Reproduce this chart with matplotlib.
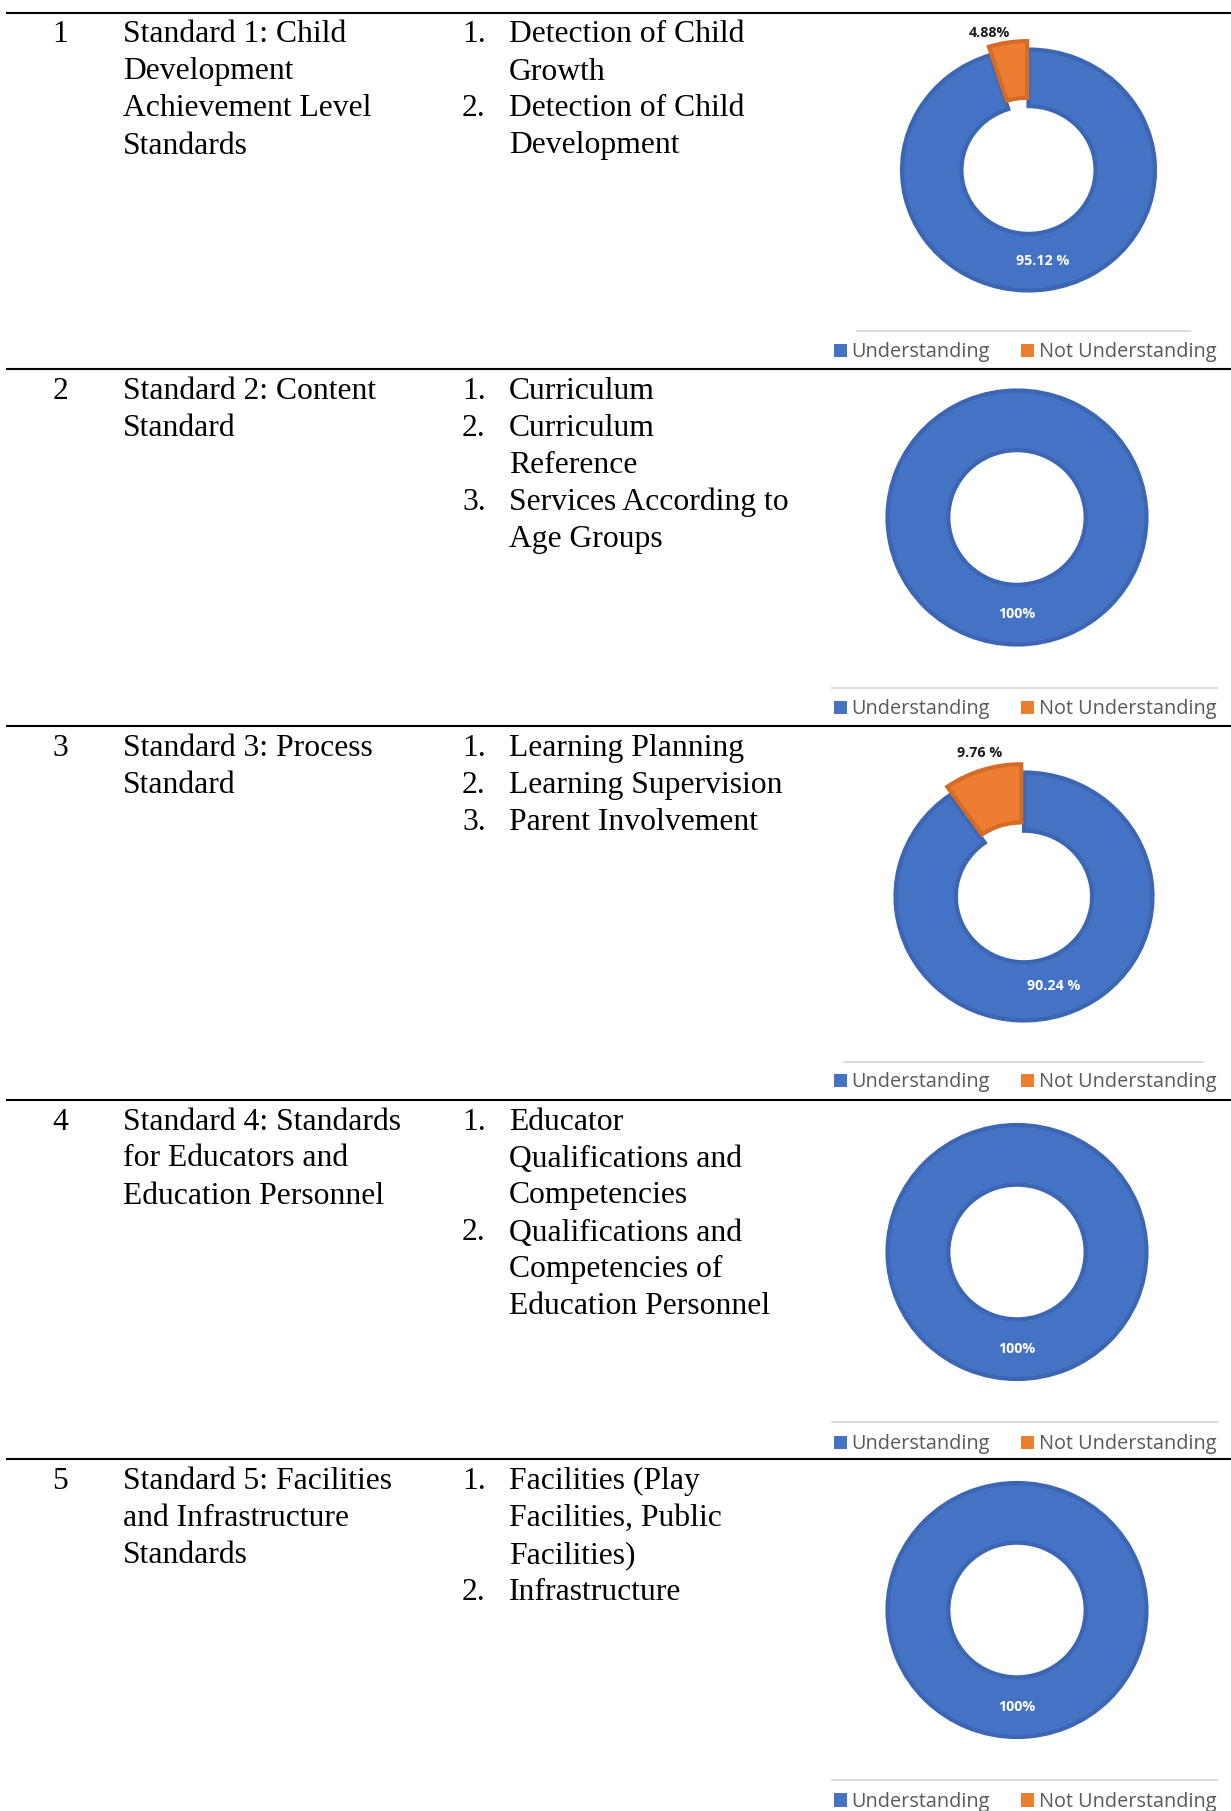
import matplotlib
matplotlib.use("Agg")
import matplotlib.pyplot as plt
import matplotlib.patches as mpatches
import numpy as np

# ---------------- data ----------------
row_numbers = ["1", "2", "3", "4", "5"]
standard_lines = [
    ["Standard 1: Child", "Development", "Achievement Level", "Standards"],
    ["Standard 2: Content", "Standard"],
    ["Standard 3: Process", "Standard"],
    ["Standard 4: Standards", "for Educators and", "Education Personnel"],
    ["Standard 5: Facilities", "and Infrastructure", "Standards"],
]
component_items = [
    [["Detection of Child", "Growth"], ["Detection of Child", "Development"]],
    [["Curriculum"], ["Curriculum", "Reference"], ["Services According to", "Age Groups"]],
    [["Learning Planning"], ["Learning Supervision"], ["Parent Involvement"]],
    [["Educator", "Qualifications and", "Competencies"],
     ["Qualifications and", "Competencies of", "Education Personnel"]],
    [["Facilities (Play", "Facilities, Public", "Facilities)"], ["Infrastructure"]],
]
categories = ["Understanding", "Not Understanding"]
understanding = [95.12, 100, 90.24, 100, 100]
not_understanding = [4.88, 0, 9.76, 0, 0]
understanding_labels = ["95.12 %", "100%", "90.24 %", "100%", "100%"]
not_understanding_labels = ["4.88%", "", "9.76 %", "", ""]

# ---------------- layout / style ----------------
W, H = 1231, 1811
BLUE, ORANGE = "#4472C4", "#ED7D31"
BLUE_EDGE, ORANGE_EDGE = "#3C66B3", "#D56C26"
SERIF = "Liberation Serif"
SANS = "Open Sans"
TFS = 22.8
LINE = 37.0

fig = plt.figure(figsize=(W / 100, H / 100), dpi=100)
fig.patch.set_facecolor("white")
bg = fig.add_axes([0, 0, 1, 1])
bg.set_xlim(0, W)
bg.set_ylim(H, 0)
bg.axis("off")

rule_y = [12.5, 369, 726, 1099.5, 1459]
for y in rule_y:
    bg.plot([6, W], [y, y], color="black", lw=1.5, solid_capstyle="butt")

for i in range(5):
    base = rule_y[i] + 30
    bg.text(60, base, row_numbers[i], ha="center", va="baseline",
            fontfamily=SERIF, fontsize=TFS, color="black")
    for k, s in enumerate(standard_lines[i]):
        bg.text(123, base + k * LINE, s, ha="left", va="baseline",
                fontfamily=SERIF, fontsize=TFS, color="black")
    line = 0
    for n, item in enumerate(component_items[i]):
        bg.text(462, base + line * LINE, f"{n + 1}.", ha="left", va="baseline",
                fontfamily=SERIF, fontsize=TFS, color="black")
        for s in item:
            bg.text(509, base + line * LINE, s, ha="left", va="baseline",
                    fontfamily=SERIF, fontsize=TFS, color="black")
            line += 1

# donut geometry (center x, center y, radius x, radius y) in pixels
geo = [(1028.5, 170, 126.5, 120.5),
       (1017, 517.5, 129.5, 127),
       (1024, 896.5, 128.5, 124),
       (1017, 1252, 129.5, 127),
       (1017, 1610, 129.5, 127)]
outer_nudge_px = [(-16, 4.5), (0, 0), (2, -3), (0, 0), (0, 0)]
legend_y = [352.5, 709.5, 1082.5, 1444.5, 1802]
separators = [(331, 857, 1190), (688, 832, 1217), (1062, 844, 1203),
              (1422, 832, 1217), (1780, 832, 1217)]

L = 1.4
for i in range(5):
    cx, cy, rx, ry = geo[i]
    ax = fig.add_axes([(cx - L * rx) / W, 1 - (cy + L * ry) / H,
                       2 * L * rx / W, 2 * L * ry / H])
    vals = [understanding[i], not_understanding[i]]
    wedges, _ = ax.pie(vals, colors=[BLUE, ORANGE], startangle=90,
                       counterclock=False, explode=[0, 0.07],
                       wedgeprops=dict(width=0.47, linewidth=3.0))
    wedges[0].set_edgecolor(BLUE_EDGE)
    wedges[1].set_edgecolor(ORANGE_EDGE)
    ax.set_aspect("auto")
    ax.set_xlim(-L, L)
    ax.set_ylim(-L, L)
    for w, v, lab, kind in zip(wedges, vals,
                               [understanding_labels[i], not_understanding_labels[i]],
                               ["in", "out"]):
        if v == 0:
            w.set_visible(False)
            continue
        mid = np.deg2rad((w.theta1 + w.theta2) / 2)
        if kind == "in":
            r = 0.76
            ax.text(r * np.cos(mid), r * np.sin(mid), lab, ha="center", va="center",
                    color="white", fontfamily=SANS, fontweight="bold", fontsize=10.3)
        else:
            r = 1.19
            nx, ny = outer_nudge_px[i]
            ax.text(r * np.cos(mid) + nx / rx, r * np.sin(mid) - ny / ry, lab,
                    ha="center", va="center", color="#1A1A1A", fontfamily=SANS,
                    fontweight="bold", fontsize=10.3)

    handles = [mpatches.Patch(facecolor=BLUE, edgecolor="none", label=categories[0]),
               mpatches.Patch(facecolor=ORANGE, edgecolor="none", label=categories[1])]
    fig.legend(handles=handles, loc="center",
               bbox_to_anchor=(1025 / W, 1 - legend_y[i] / H), ncol=2,
               frameon=False, prop={"family": SANS, "size": 14.3},
               handlelength=0.66, handleheight=0.66, handletextpad=0.25,
               columnspacing=1.55, labelcolor="#595959", borderpad=0,
               borderaxespad=0)

    sy, sx0, sx1 = separators[i]
    bg.plot([sx0, sx1], [sy, sy], color="#D9D9D9", lw=1.3)

fig.savefig("out.png", dpi=100, facecolor="white")
